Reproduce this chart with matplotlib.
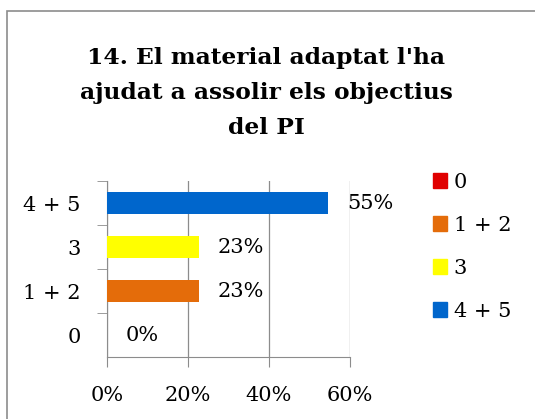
import matplotlib
matplotlib.use("Agg")
import matplotlib.pyplot as plt
from matplotlib.patches import Rectangle

# data
categories = ["0", "1 + 2", "3", "4 + 5"]
values = [0.0, 0.227, 0.227, 0.545]
labels = ["0%", "23%", "23%", "55%"]
colors = ["#e00000", "#e46c0a", "#ffff00", "#0066cc"]
xticks = [0, 0.2, 0.4, 0.6]
xtick_labels = ["0%", "20%", "40%", "60%"]
title = "14. El material adaptat l'ha\najudat a assolir els objectius\ndel PI"

plt.rcParams["font.family"] = ["DejaVu Serif"]

W, H = 535, 419
fig = plt.figure(figsize=(W / 100, H / 100), dpi=100)

# outer chart frame (cut off at right and bottom)
fig.patches.append(Rectangle((7 / W, -0.1), 1.2, 1 - 11 / H + 0.1, transform=fig.transFigure,
                             fill=False, ec="#8c8c8c", lw=1.2))

fig.text(266 / W, 1 - 47 / H, title, ha="center", va="top", fontsize=16.8, fontweight="bold",
         linespacing=1.75)

ax = fig.add_axes([107 / W, 1 - 357 / H, 243 / W, 176 / H])
y = range(len(categories))
ax.barh(y, values, height=0.48, color=colors, zorder=3)
for yi, v, lab in zip(y, values, labels):
    ax.text(v + 0.047, yi, lab, va="center", ha="left", fontsize=15)

ax.set_xlim(0, 0.6)
ax.set_ylim(-0.5, 3.5)
ax.set_xticks(xticks)
ax.set_xticklabels(xtick_labels, fontsize=15)
ax.set_yticks(list(y))
ax.set_yticklabels(categories, fontsize=15)
ax.set_yticks([0.5, 1.5, 2.5, 3.5], minor=True)
ax.tick_params(axis="y", which="major", length=0, pad=19)
ax.tick_params(axis="y", which="minor", length=7, color="#8c8c8c", direction="out")
ax.tick_params(axis="x", length=7, color="#8c8c8c", pad=14)
ax.grid(axis="x", color="#8c8c8c", lw=0.9, zorder=0)
for s in ["top", "right"]:
    ax.spines[s].set_visible(False)
for s in ["left", "bottom"]:
    ax.spines[s].set_color("#8c8c8c")

# legend, top to bottom as in reference
handles = [Rectangle((0, 0), 1, 1, color=c) for c in colors]
fig.legend(handles, categories, loc="upper left", bbox_to_anchor=(414 / W, 1 - 154 / H),
           frameon=False, fontsize=15, handlelength=0.7, handleheight=0.7,
           handletextpad=0.3, labelspacing=1.15)

fig.savefig("out.png", dpi=100)
